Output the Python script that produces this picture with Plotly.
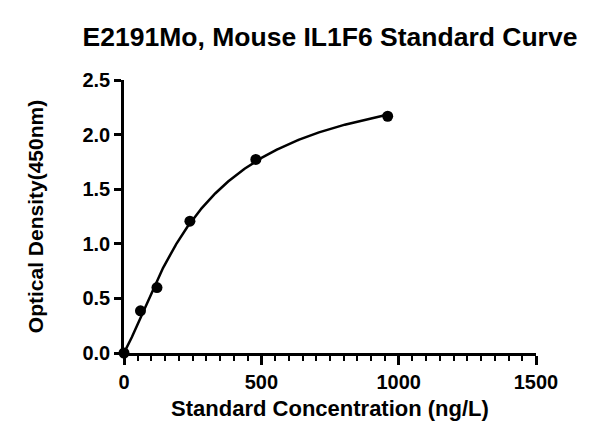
import numpy as np
import plotly.graph_objects as go

conc = [0, 60, 120, 240, 480, 960]
od = [0.0, 0.386, 0.599, 1.207, 1.773, 2.168]

title = "E2191Mo, Mouse IL1F6 Standard Curve"
x_title = "Standard Concentration (ng/L)"
y_title = "Optical Density(450nm)"
x_ticks = [0, 500, 1000, 1500]
y_ticks = [0.0, 0.5, 1.0, 1.5, 2.0, 2.5]

# four-parameter logistic fit of the standards (grid over b, c; linear solve for a, d)
xa = np.array(conc, dtype=float)
ya = np.array(od, dtype=float)
best = None
for b in np.linspace(0.6, 3.0, 121):
    for c in np.linspace(50, 3000, 296):
        g = 1.0 / (1.0 + (xa / c) ** b)
        A = np.vstack([g, 1 - g]).T
        coef, *_ = np.linalg.lstsq(A, ya, rcond=None)
        r = np.sum((A @ coef - ya) ** 2)
        if best is None or r < best[0]:
            best = (r, b, c, coef)
_, fb, fc, (fa, fd) = best
xf = np.linspace(0, max(conc), 400)
yf = fd + (fa - fd) / (1.0 + (xf / fc) ** fb)

fnt = "Liberation Sans, Arial, sans-serif"

fig = go.Figure()
fig.add_trace(go.Scatter(x=xf, y=yf, mode="lines", line=dict(color="black", width=2.5),
                         cliponaxis=False, hoverinfo="skip"))
fig.add_trace(go.Scatter(x=conc, y=od, mode="markers", marker=dict(color="black", size=11),
                         cliponaxis=False))

fig.update_layout(
    width=600, height=445,
    margin=dict(l=124, r=64, t=80, b=92),
    paper_bgcolor="white", plot_bgcolor="white",
    showlegend=False,
    title=dict(text="<b>" + title + "</b>", x=0.55, xanchor="center", y=0.917, yanchor="middle",
               font=dict(family=fnt, size=26.5, color="black")),
    font=dict(family=fnt, color="black"),
)
fig.update_xaxes(
    range=[0, 1500], tickvals=x_ticks, ticktext=["<b>%d</b>" % v for v in x_ticks],
    showgrid=False, zeroline=False, showline=True, linecolor="black", linewidth=2.5,
    ticks="outside", ticklen=9, tickwidth=2.5, tickcolor="black",
    minor=dict(dtick=50, ticks="outside", ticklen=5, tickwidth=2, tickcolor="black", showgrid=False),
    tickfont=dict(family=fnt, size=20, color="black"),
    title=dict(text="<b>" + x_title + "</b>", font=dict(family=fnt, size=22, color="black"), standoff=9),
)
fig.update_yaxes(
    range=[0, 2.5], tickvals=y_ticks, ticktext=["<b>%.1f</b>" % v for v in y_ticks],
    showgrid=False, zeroline=False, showline=True, linecolor="black", linewidth=2.5,
    ticks="outside", ticklen=7, tickwidth=2.5, tickcolor="black",
    tickfont=dict(family=fnt, size=20, color="black"),
    title=dict(text="<b>" + y_title + "</b>", font=dict(family=fnt, size=21, color="black"), standoff=34),
)

fig.write_html("out.html")
